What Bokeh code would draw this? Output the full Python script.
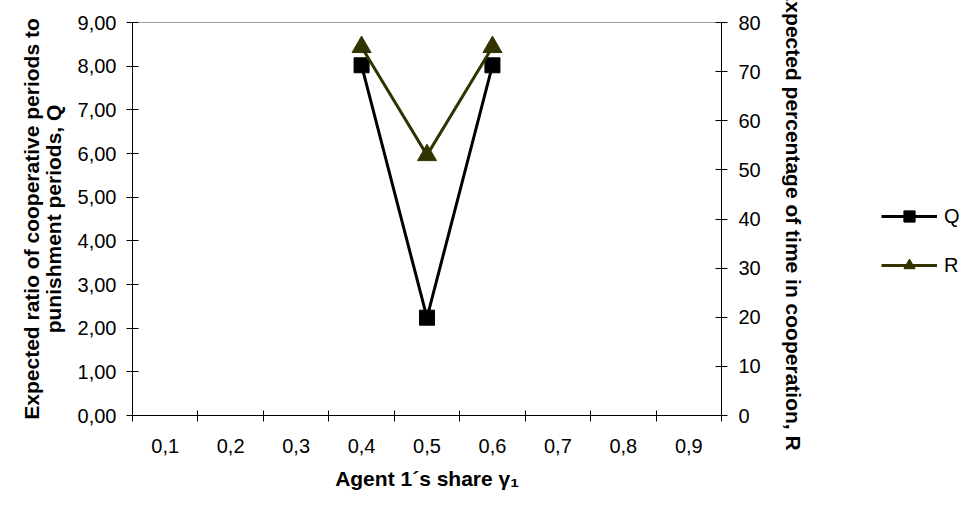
from bokeh.plotting import figure
from bokeh.layouts import row
from bokeh.models import (Range1d, LinearAxis, FixedTicker, CustomJSTickFormatter,
                          Legend, LegendItem)
from bokeh.embed import file_html
from bokeh.resources import INLINE

# ---- data ----
x_share = [0.4, 0.5, 0.6]
q_values = [8.02, 2.24, 8.02]
r_values = [75.0, 53.0, 75.0]
x_tick_values = [0.1, 0.2, 0.3, 0.4, 0.5, 0.6, 0.7, 0.8, 0.9]
x_boundaries = [0.05, 0.15, 0.25, 0.35, 0.45, 0.55, 0.65, 0.75, 0.85, 0.95]
q_ticks = [0, 1, 2, 3, 4, 5, 6, 7, 8, 9]
r_ticks = [0, 10, 20, 30, 40, 50, 60, 70, 80]

FONT = "Liberation Sans"
TICK_SIZE = "20px"
TITLE_SIZE = "21px"
Q_COLOR = "black"
R_COLOR = "#333300"

p = figure(width=811, height=492, output_backend="svg", toolbar_location=None,
           x_range=Range1d(0.05, 0.95), y_range=Range1d(0, 9),
           min_border_left=132, min_border_right=90, min_border_top=22,
           min_border_bottom=0, x_axis_location=None, y_axis_location=None)
p.grid.visible = False
p.outline_line_color = "#a0a0a0"
p.outline_line_width = 1
p.background_fill_color = "white"
p.border_fill_color = "white"

p.extra_y_ranges = {"r": Range1d(0, 80)}


def style_axis(ax):
    ax.axis_line_color = "black"
    ax.axis_line_width = 1
    ax.major_tick_line_color = "black"
    ax.minor_tick_line_color = "black"
    ax.major_label_text_font = FONT
    ax.major_label_text_font_size = TICK_SIZE
    ax.major_label_text_color = "black"
    ax.axis_label_text_font = FONT
    ax.axis_label_text_font_size = TITLE_SIZE
    ax.axis_label_text_font_style = "bold"
    ax.axis_label_text_color = "black"


# bottom axis
xax = LinearAxis(ticker=FixedTicker(ticks=x_tick_values, minor_ticks=x_boundaries),
                 formatter=CustomJSTickFormatter(code="return tick.toFixed(1).replace('.', ',');"),
                 axis_label="Agent 1´s share γ₁")
style_axis(xax)
xax.major_tick_in = 0
xax.major_tick_out = 0
xax.minor_tick_in = 5
xax.minor_tick_out = 6
xax.major_label_standoff = 17
xax.axis_label_standoff = 11
p.add_layout(xax, "below")

# left axis
lax = LinearAxis(ticker=FixedTicker(ticks=q_ticks),
                 formatter=CustomJSTickFormatter(code="return tick.toFixed(2).replace('.', ',');"),
                 axis_label="Expected ratio of cooperative periods to\npunishment periods, Q")
style_axis(lax)
lax.major_tick_in = 6
lax.major_tick_out = 6
lax.minor_tick_in = 0
lax.minor_tick_out = 0
lax.major_label_standoff = 10
lax.axis_label_standoff = 10
lax.axis_label_text_line_height = 0.95
p.add_layout(lax, "left")

# right axis
rax = LinearAxis(y_range_name="r", ticker=FixedTicker(ticks=r_ticks),
                 axis_label="Expected percentage of time in cooperation, R")
style_axis(rax)
rax.major_tick_in = 6
rax.major_tick_out = 6
rax.minor_tick_in = 0
rax.minor_tick_out = 0
rax.major_label_standoff = 11
rax.axis_label_standoff = 18
p.add_layout(rax, "right")

# series
q_line = p.line(x_share, q_values, line_color=Q_COLOR, line_width=3)
q_pts = p.scatter(x_share, q_values, marker="square", size=15,
                  fill_color=Q_COLOR, line_color=Q_COLOR)
r_line = p.line(x_share, r_values, y_range_name="r", line_color=R_COLOR, line_width=3)
r_pts = p.scatter(x_share, r_values, y_range_name="r", marker="triangle", size=19,
                  fill_color=R_COLOR, line_color=R_COLOR)

# ---- side panel holding the legend ----
# Its ranges keep the key renderers' data out of view; only the legend swatches show.
side = figure(width=151, height=492, output_backend="svg", toolbar_location=None,
              x_range=Range1d(10, 11), y_range=Range1d(10, 11),
              min_border=0, x_axis_location=None, y_axis_location=None)
side.grid.visible = False
side.outline_line_color = None
side.background_fill_color = "white"
side.border_fill_color = "white"

q_key_line = side.line(x_share, q_values, line_color=Q_COLOR, line_width=3)
q_key_pts = side.scatter(x_share, q_values, marker="square", size=15,
                         fill_color=Q_COLOR, line_color=Q_COLOR)
r_key_line = side.line(x_share, r_values, line_color=R_COLOR, line_width=3)
r_key_pts = side.scatter(x_share, r_values, marker="triangle", size=19,
                         fill_color=R_COLOR, line_color=R_COLOR)

legend = Legend(items=[LegendItem(label="Q", renderers=[q_key_line, q_key_pts]),
                       LegendItem(label="R", renderers=[r_key_line, r_key_pts])],
                location=(70, 136), orientation="vertical",
                glyph_width=56, glyph_height=28, spacing=21, label_standoff=7,
                padding=0, margin=0, border_line_color=None,
                background_fill_alpha=0,
                label_text_font=FONT, label_text_font_size=TICK_SIZE,
                label_text_color="black")
side.add_layout(legend, "center")

layout = row(p, side)

open("out.html", "w").write(file_html(layout, INLINE))
